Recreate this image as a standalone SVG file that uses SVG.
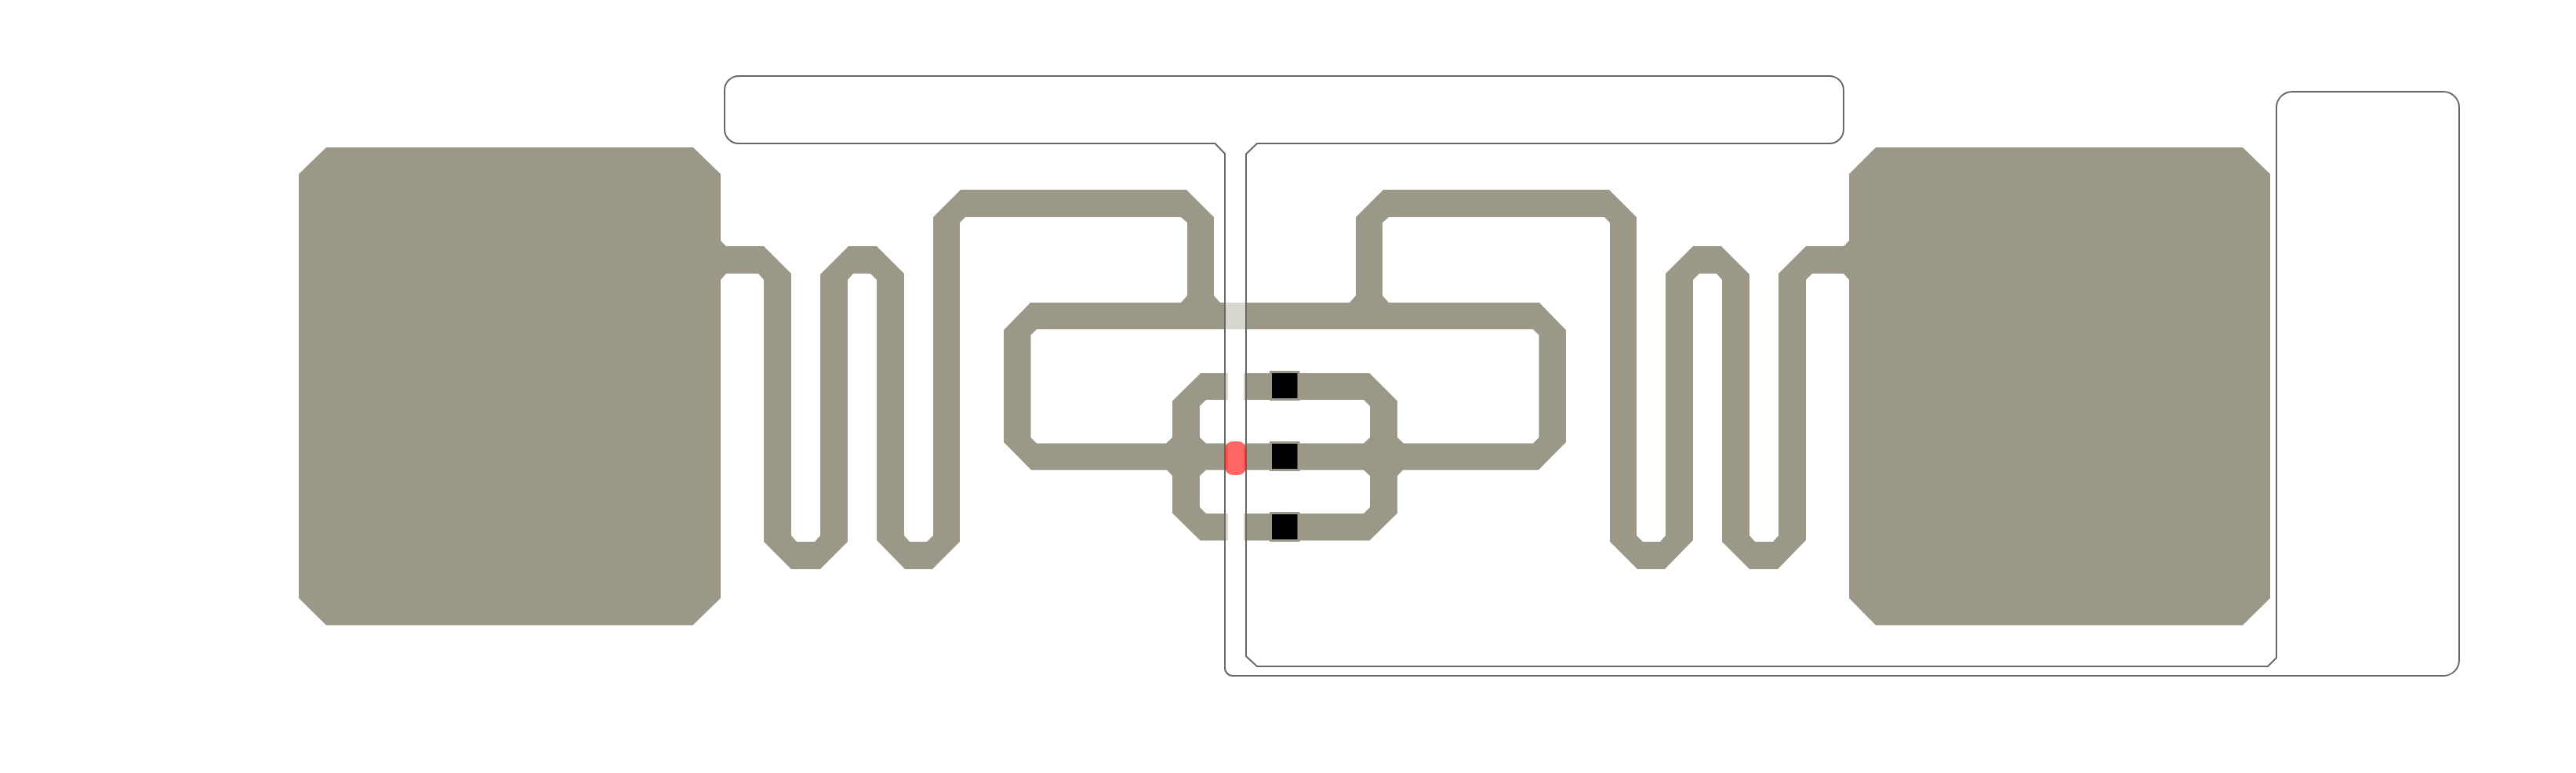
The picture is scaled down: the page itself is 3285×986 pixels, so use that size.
<svg xmlns="http://www.w3.org/2000/svg" width="3285" height="986" viewBox="0 0 3285 986">
<style>
.metal{fill:#9c9888}
.chip{fill:#000;stroke:#9c9888;stroke-width:3}
.outline{fill:#fff;fill-opacity:.6;stroke:#666;stroke-width:2}
.contact{fill:#f00;fill-opacity:.6}
</style>
<rect width="3285" height="986" fill="#fff"/>
<g id="antenna">
<polygon id="antenna-left" class="metal" points="1640,386 1556,386 1548,377 1548,277 1513,242 1225,242 1190,277 1190,683 1182,691 1160,691 1153,683 1153,349 1118,314 1082,314 1046,350 1046,683 1039,691 1016,691 1009,683 1009,349 974,314 926,314 919,307 919,222 884,188 416,188 381,222 381,763 416,797.5 883.5,797.5 919,763 919,357 926,349 967,349 974,357 974,691 1009,726 1046,726 1081,691 1081,357 1088,349 1110,349 1118,357 1118,689 1154,726 1189,726 1224,691 1224,284 1231,277 1506,277 1514,284 1514,377 1506,386 1314,386 1280,421 1280,564 1315,599.5 1488,599.5 1495,607 1495,654.5 1530.5,689.5 1566,689.5 1566,655 1538,655 1530,647 1530,607 1538,599.5 1566,599.5 1566,565.5 1538,565.5 1530,558 1530,518 1538,510 1566,510 1566,476 1531,476 1495,511.5 1495,558 1487,565.5 1322,565.5 1314.5,558 1314.5,427.5 1322,420 1640,420"/>
<polygon id="antenna-right" class="metal" points="1630,386 1721,386 1729,377 1729,277 1764,242 2052,242 2087,277 2087,683 2095,691 2117,691 2124,683 2124,349 2159,314 2195,314 2231,350 2231,683 2238,691 2261,691 2268,683 2268,349 2303,314 2351,314 2358,307 2358,222 2392,188 2860,188 2895,222 2895,763 2860,797.5 2392,797.5 2358,763 2358,357 2351,349 2311,349 2303,357 2303,689 2267,726 2231,726 2196,691 2196,357 2189,349 2167,349 2159,357 2159,689 2123,726 2088,726 2053,691 2053,284 2046,277 1771,277 1763,284 1763,377 1771,386 1963,386 1997,421 1997,564 1962,599.5 1789,599.5 1782,607 1782,654.5 1746.5,689.5 1586,689.5 1586,655 1739,655 1747,647 1747,607 1739,599.5 1586,599.5 1586,565.5 1739,565.5 1747,558 1747,518 1739,510 1586,510 1586,476 1746.5,476 1782,511.5 1782,558 1790,565.5 1955,565.5 1962.5,558 1962.5,427.5 1955,420 1630,420"/>
</g>
<g id="chips">
<rect class="chip" x="1620.5" y="474.5" width="35.5" height="35"/>
<rect class="chip" x="1620.5" y="564.5" width="35.5" height="35"/>
<rect class="chip" x="1620.5" y="654.5" width="35.5" height="35"/>
</g>
<path id="loop-outline" class="outline" d="M942,97 H2333 A18,18 0 0 1 2351,115 V165 A18,18 0 0 1 2333,183 H1603 L1589,196.5 V837 L1603,850 H2892 L2903,839 V137 A20,20 0 0 1 2923,117 H3116 A20,20 0 0 1 3136,137 V842 A20,20 0 0 1 3116,862 H1572 A10,10 0 0 1 1562,852 V196 L1549.5,183 H942 A18,18 0 0 1 924,165 V115 A18,18 0 0 1 942,97 Z"/>
<rect id="contact" class="contact" x="1562" y="563" width="27" height="43" rx="10"/>
</svg>
